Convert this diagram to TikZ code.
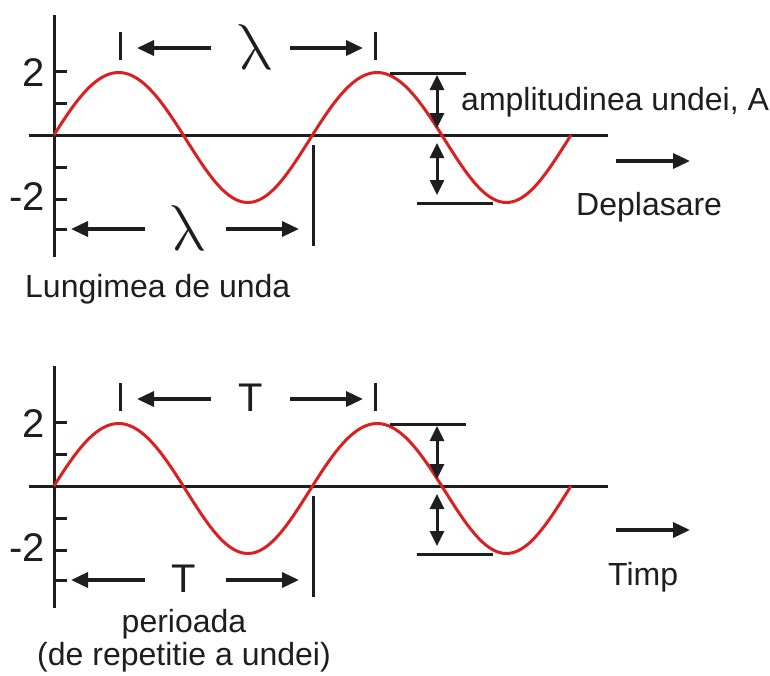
\documentclass[tikz,border=0pt]{standalone}
\usepackage{fontspec}
\setmainfont{Liberation Sans}
\usetikzlibrary{arrows.meta}
\definecolor{wavered}{RGB}{218,32,32}
\definecolor{ink}{RGB}{30,30,30}
\tikzset{
  axisline/.style={ink, line width=3pt},
  wave/.style={wavered, line width=3pt},
  dimarrow/.style={ink, line width=3.5pt, -{Triangle[length=17pt,width=15pt]}},
  dblarrow/.style={ink, line width=3pt, {Triangle[length=15pt,width=14pt]}-{Triangle[length=15pt,width=14pt]}},
  lbl/.style={inner sep=0pt, text=ink, font=\fontsize{32}{36}\selectfont},
  num/.style={inner sep=0pt, text=ink, font=\fontsize{40}{44}\selectfont},
  symlbl/.style={inner sep=0pt, text=ink},
}
\newcommand{\wavepanel}[3]{%
  % axes
  \draw[axisline] (54.5,15) -- (54.5,257);
  \draw[axisline] (29,135) -- (608,135);
  \foreach \t in {71,103,167,199,229} \draw[axisline] (54.5,\t) -- (67,\t);
  \node[num, anchor=base east] (two#2) at (45,86) {2};
  \node[num, anchor=base east] (mtwo#2) at (45,210) {-2};
  % wave
  \draw[wave] plot[domain=0:517,samples=160,smooth]
     ({54+\x},{135-65*sin(\x/258.5*360)+2.5*sin(\x/258.5*360)*sin(\x/258.5*360)});
  % upper wavelength marker
  \draw[axisline] (120,32) -- (120,60);
  \draw[axisline] (375,32) -- (375,60);
  \node[symlbl,#3] (uplab#2) at (251,47) {#1};
  \coordinate (ul1#2) at (211,48);
  \coordinate (ul2#2) at (137,48);
  \coordinate (ur1#2) at (290,48);
  \coordinate (ur2#2) at (363,48);
  \draw[dimarrow] (ul1#2) -- (ul2#2);
  \draw[dimarrow] (ur1#2) -- (ur2#2);
  % lower wavelength marker
  \draw[axisline] (313,145) -- (313,246);
  \node[symlbl,#3] (lowlab#2) at (184,228) {#1};
  \coordinate (ll1#2) at (145,229);
  \coordinate (ll2#2) at (71,229);
  \coordinate (lr1#2) at (226,229);
  \coordinate (lr2#2) at (299,229);
  \draw[dimarrow] (ll1#2) -- (ll2#2);
  \draw[dimarrow] (lr1#2) -- (lr2#2);
  % amplitude marker
  \draw[axisline] (390,73) -- (466,73);
  \draw[axisline] (417,203) -- (493,203);
  \coordinate (at1#2) at (437,75);
  \coordinate (at2#2) at (437,128);
  \coordinate (ab1#2) at (437,143);
  \coordinate (ab2#2) at (437,195);
  \draw[dblarrow] (at1#2) -- (at2#2);
  \draw[dblarrow] (ab1#2) -- (ab2#2);
}
\begin{document}
\begin{tikzpicture}[x=1pt,y=-1pt]
  \useasboundingbox (0,0) rectangle (770,675);
  % top panel: displacement
  \begin{scope}
    \wavepanel{\scalebox{2.4}[2.6]{\Huge$\lambda$}}{a}{xslant=-0.25, transform shape}
  \end{scope}
  \node[lbl, anchor=base west] (amp) at (461,110) {amplitudinea undei, A};
  \coordinate (dx1) at (616,161);
  \coordinate (dx2) at (690,161);
  \draw[dimarrow] (dx1) -- (dx2);
  \node[lbl, anchor=base west] (depl) at (576,215) {Deplasare};
  \node[lbl, anchor=base west] (lung) at (25,297) {Lungimea de unda};
  % bottom panel: time
  \begin{scope}[shift={(0,351)}]
    \wavepanel{\fontsize{40}{44}\selectfont T}{b}{}
  \end{scope}
  \coordinate (tx1) at (616,530);
  \coordinate (tx2) at (690,530);
  \draw[dimarrow] (tx1) -- (tx2);
  \node[lbl, anchor=base west] (timp) at (608,585) {Timp};
  \node[lbl, anchor=base] (per) at (184,632) {perioada};
  \node[lbl, anchor=base] (rep) at (184,665) {(de repetitie a undei)};
\end{tikzpicture}
\end{document}
